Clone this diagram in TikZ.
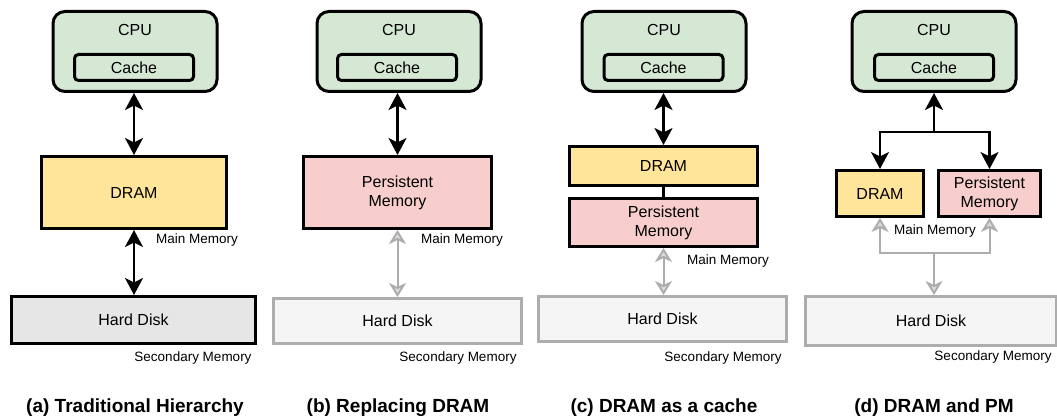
\documentclass[tikz,border=0pt]{standalone}
\usepackage{fontspec}
\setmainfont{Liberation Sans}
\usetikzlibrary{arrows.meta}

\definecolor{cpugreen}{HTML}{D5E8D4}
\definecolor{dramyellow}{HTML}{FFE599}
\definecolor{pmpink}{HTML}{F8CECC}
\definecolor{diskgray}{HTML}{E6E6E6}
\definecolor{diskpale}{HTML}{F5F5F5}
\definecolor{fadeline}{HTML}{ADADAD}

\tikzset{
  blk/.style={draw=black, line width=3pt, inner sep=0pt, align=center,
    font=\fontsize{16}{19}\selectfont},
  cpubox/.style={blk, fill=cpugreen, rounded corners=12pt,
    minimum width=164pt, minimum height=80pt},
  cachebox/.style={blk, fill=cpugreen, rounded corners=4pt,
    minimum width=119pt, minimum height=26pt},
  drambox/.style={blk, fill=dramyellow},
  pmbox/.style={blk, fill=pmpink},
  diskbox/.style={blk, fill=diskgray},
  fadedisk/.style={blk, draw=fadeline, fill=diskpale},
  plain/.style={inner sep=0pt, font=\fontsize{16}{19}\selectfont},
  memlabel/.style={inner sep=1pt, font=\fontsize{13.5}{15}\selectfont},
  caption/.style={inner sep=0pt, font=\bfseries\fontsize{19}{22}\selectfont},
  link/.style={line width=2.4pt,
    {Stealth[length=17pt, width=18pt, inset=4.5pt]}-{Stealth[length=17pt, width=18pt, inset=4.5pt]}},
  uplink/.style={line width=2.4pt, -{Stealth[length=17pt, width=18pt, inset=4.5pt]}},
  fadelink/.style={line width=2pt, draw=fadeline,
    {Stealth[length=14pt, width=17pt, inset=4pt, fill=fadeline!40]}-{Stealth[length=14pt, width=17pt, inset=4pt, fill=fadeline!40]}},
  fadeup/.style={line width=2pt, draw=fadeline,
    -{Stealth[length=14pt, width=17pt, inset=4pt, fill=fadeline!40]}},
}

% CPU block with its cache: #1 name prefix, #2 x of the CPU box, #3 x of the cache
\newcommand\cpublock[3]{%
  \node[cpubox] (#1cpu) at (#2,51.5) {};
  \node[plain] (#1cpulabel) at (#2,30) {CPU};
  \node[cachebox] (#1cache) at (#3,67.5) {Cache};
}

\begin{document}
\begin{tikzpicture}[x=1pt, y=-1pt]
\useasboundingbox (0,0) rectangle (1057,419);

% (a) Traditional hierarchy
\cpublock{a}{135}{134}
\node[drambox, minimum width=185pt, minimum height=72pt] (adram) at (134,192.5) {DRAM};
\node[diskbox, minimum width=244pt, minimum height=47pt] (adisk) at (133.5,320) {Hard Disk};
\node[memlabel] (amain) at (197,240) {Main Memory};
\node[memlabel] (asec) at (193,358) {Secondary Memory};
\draw[link] (acpu.south -| adram.north) -- (adram.north);
\draw[link] (adram.south) -- (adram.south |- adisk.north);
\node[caption] (acap) at (135,408) {(a) Traditional Hierarchy};

% (b) Replacing DRAM
\cpublock{b}{399}{397}
\node[pmbox, minimum width=188pt, minimum height=72pt] (bpm) at (397.5,192.5) {Persistent\\Memory};
\node[fadedisk, minimum width=248pt, minimum height=45pt] (bdisk) at (397.5,321) {Hard Disk};
\node[memlabel] (bmain) at (462,240) {Main Memory};
\node[memlabel] (bsec) at (458,358) {Secondary Memory};
\draw[link] (bcpu.south -| bpm.north) -- (bpm.north);
\draw[fadelink] (bpm.south) -- (bdisk.north);
\node[caption] (bcap) at (398,408) {(b) Replacing DRAM};

% (c) DRAM as a cache
\cpublock{c}{664}{663.5}
\node[drambox, minimum width=188pt, minimum height=39pt] (cdram) at (663.5,166) {DRAM};
\node[pmbox, minimum width=188pt, minimum height=48pt] (cpm) at (663.5,222.5) {Persistent\\Memory};
\node[fadedisk, minimum width=248pt, minimum height=45pt] (cdisk) at (662.5,319) {Hard Disk};
\node[memlabel] (cmain) at (728,261) {Main Memory};
\node[memlabel] (csec) at (723,358) {Secondary Memory};
\draw[link] (ccpu.south -| cdram.north) -- (cdram.north);
\draw[line width=3pt] (cdram.south) -- (cpm.north);
\draw[fadelink] (cpm.south) -- (cpm.south |- cdisk.north);
\node[caption] (ccap) at (664,408) {(c) DRAM as a cache};

% (d) DRAM and PM side by side
\cpublock{d}{934}{934}
\node[drambox, minimum width=87pt, minimum height=46pt] (ddram) at (880,193.5) {DRAM};
\node[pmbox, minimum width=102pt, minimum height=46pt] (dpm) at (989.5,193.5) {Persistent\\Memory};
\node[fadedisk, minimum width=251pt, minimum height=49pt] (ddisk) at (931,321) {Hard Disk};
\node[memlabel] (dmain) at (935,231) {Main Memory};
\node[memlabel] (dsec) at (993,357) {Secondary Memory};
\coordinate (dsplit) at (934,132);
\coordinate (dmerge) at (934,253);
\draw[uplink] (dsplit) -- (dcpu.south);
\draw[uplink] (dsplit) -| (ddram.north);
\draw[uplink] (dsplit) -| (dpm.north);
\draw[fadeup] (dmerge) -| (ddram.south);
\draw[fadeup] (dmerge) -| (dpm.south);
\draw[fadeup] (dmerge) -- (dmerge |- ddisk.north);
\node[caption] (dcap) at (934,408) {(d) DRAM and PM};
\end{tikzpicture}
\end{document}
